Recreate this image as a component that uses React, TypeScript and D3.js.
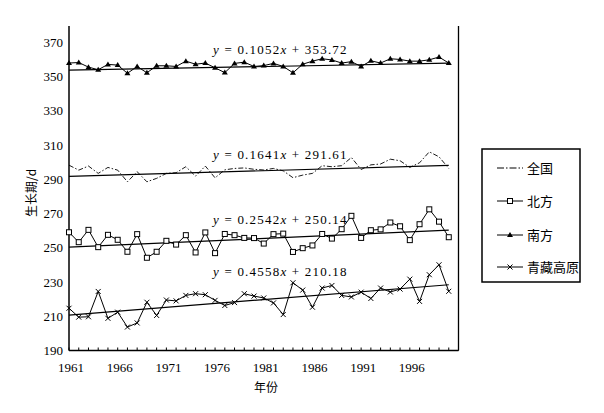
import * as d3 from 'd3';

const years = d3.range(1961, 2001);
const xTickYears = [1961, 1966, 1971, 1976, 1981, 1986, 1991, 1996];
const yTicks = [190, 210, 230, 250, 270, 290, 310, 330, 350, 370];

const south = [358, 358.3, 355.6, 354.1, 357.2, 356.8, 352, 356, 352.3, 356.4, 356.4, 356, 359.1, 357.3, 358, 355.2, 352.4, 357.8, 358.5, 356, 356.5, 357.8, 356, 352.3, 357.3, 359.1, 360.5, 359.8, 358, 358.8, 356, 359.3, 358, 360.5, 360.1, 359.1, 359.1, 359.9, 361.5, 358];
const national = [298.3, 295.4, 297.8, 293.5, 297, 295.4, 288.6, 294.5, 288.6, 290.6, 293.5, 293.9, 297.4, 291.9, 297.8, 290.9, 295.6, 296.4, 296.7, 295.9, 295.5, 296.4, 295, 291, 292.5, 293.5, 298, 297.4, 298, 302.8, 295.8, 298.5, 299, 301.8, 300.9, 297, 299.7, 306.1, 303.2, 296.4];
const north = [259.1, 253.3, 260.5, 250.4, 257.6, 254.7, 247.7, 258, 244.2, 247.7, 254.1, 251.9, 257.4, 247.3, 259, 246.9, 258.1, 257.4, 255.8, 255.7, 252.5, 258, 258.3, 247.6, 249.8, 251.4, 258.1, 255.4, 260.9, 268.7, 255.8, 260.3, 260.8, 264.8, 262.6, 254.5, 263.8, 272.5, 265.3, 256.2];
const plateau = [214.7, 209.5, 209.7, 224.5, 208.8, 212.4, 203.7, 206.1, 218.2, 210.5, 219.5, 219, 222.2, 223.2, 222.6, 219.3, 216.3, 218, 223.2, 221.8, 220.7, 217.8, 211, 229.6, 225.3, 215.3, 226.5, 228, 222.2, 221.3, 224.1, 220.4, 226.5, 224.2, 225.9, 231.7, 218.7, 234.3, 240.1, 224.6];

// trend lines: y = a * x + b, x = 1..40
const trendSlopes = [0.1052, 0.1641, 0.2542, 0.4558];
const trendIntercepts = [353.72, 291.61, 250.14, 210.18];
const trendLabels = ['0.1052', '0.1641', '0.2542', '0.4558'];
const trendConsts = ['353.72', '291.61', '250.14', '210.18'];
const trendLabelY = [50, 155, 220, 272];

const legendNames = ['全国', '北方', '南方', '青藏高原'];

const serif = '"Liberation Serif", "DejaVu Serif", serif';
const cjk = '"Noto Sans CJK SC", sans-serif';

const x = d3.scaleLinear().domain([1961, 2001]).range([69, 458.5]);
const y = d3.scaleLinear().domain([190, 370]).range([350.5, 42.5]);

const line = d3
  .line<number>()
  .x((_, i) => x(years[i]))
  .y((d) => y(d));

const Square = ({ cx, cy }: { cx: number; cy: number }) => (
  <rect x={cx - 2.5} y={cy - 2.5} width={5} height={5} fill="#fff" stroke="#000" strokeWidth={1} />
);
const Tri = ({ cx, cy }: { cx: number; cy: number }) => (
  <path d={`M${cx},${cy - 3}L${cx + 3},${cy + 2}L${cx - 3},${cy + 2}Z`} fill="#000" />
);
const Cross = ({ cx, cy }: { cx: number; cy: number }) => (
  <path d={`M${cx - 2.5},${cy - 2.5}L${cx + 2.5},${cy + 2.5}M${cx - 2.5},${cy + 2.5}L${cx + 2.5},${cy - 2.5}`} stroke="#000" strokeWidth={1} />
);

export default function App() {
  const x0 = x.range()[0];
  const x1 = x.range()[1];
  const yBase = y(190);
  const legendY = [168, 201, 235, 267];

  return (
    <svg
      width={604}
      height={413}
      viewBox="0 0 604 413"
      style={{ position: 'absolute', left: 0, top: 0, background: '#fff' }}
    >
      {/* frame */}
      <line x1={x0} x2={x0} y1={26} y2={yBase} stroke="#000" strokeWidth={1.5} />
      <line x1={x1} x2={x1} y1={26} y2={yBase} stroke="#000" strokeWidth={1.3} />
      <line x1={x0} x2={x1} y1={yBase} y2={yBase} stroke="#000" strokeWidth={1.5} />

      {/* x ticks every year */}
      {d3.range(1961, 2002).map((yr) => (
        <line key={yr} x1={x(yr)} x2={x(yr)} y1={yBase} y2={yBase - 3} stroke="#000" strokeWidth={1} />
      ))}
      {xTickYears.map((yr) => (
        <text key={yr} x={x(yr) + 2} y={yBase + 21} textAnchor="middle" fontFamily={serif} fontSize={13}>
          {yr}
        </text>
      ))}
      {yTicks.map((t) => (
        <text key={t} x={63} y={y(t) + 4.5} textAnchor="end" fontFamily={serif} fontSize={13}>
          {t}
        </text>
      ))}

      <text
        transform="translate(36,193) rotate(-90)"
        textAnchor="middle"
        fontFamily={cjk}
        fontSize={12}
      >
        生长期/d
      </text>
      <text x={266} y={392} textAnchor="middle" fontFamily={cjk} fontSize={12}>
        年份
      </text>

      {/* trend lines */}
      {trendSlopes.map((a, k) => (
        <line
          key={k}
          x1={x(1961)}
          x2={x(2000)}
          y1={y(a * 1 + trendIntercepts[k])}
          y2={y(a * 40 + trendIntercepts[k])}
          stroke="#000"
          strokeWidth={1.2}
        />
      ))}
      {trendLabels.map((lab, k) => (
        <text
          key={k}
          x={213}
          y={trendLabelY[k] + 4}
          fontFamily={serif}
          fontSize={13}
          letterSpacing={1.2}
          xmlSpace="preserve"
        >
          <tspan fontStyle="italic">y</tspan>
          {' = ' + lab}
          <tspan fontStyle="italic">x</tspan>
          {' + ' + trendConsts[k]}
        </text>
      ))}

      {/* series */}
      <path d={line(national) || ''} fill="none" stroke="#000" strokeWidth={0.9} strokeDasharray="5,2,1.5,2" />
      <path d={line(north) || ''} fill="none" stroke="#000" strokeWidth={1} />
      <path d={line(south) || ''} fill="none" stroke="#000" strokeWidth={1} />
      <path d={line(plateau) || ''} fill="none" stroke="#000" strokeWidth={1} />
      {north.map((v, i) => (
        <Square key={'n' + i} cx={x(years[i])} cy={y(v)} />
      ))}
      {south.map((v, i) => (
        <Tri key={'s' + i} cx={x(years[i])} cy={y(v)} />
      ))}
      {plateau.map((v, i) => (
        <Cross key={'p' + i} cx={x(years[i])} cy={y(v)} />
      ))}

      {/* legend */}
      <rect x={482} y={149} width={98} height={133} fill="#fff" stroke="#000" strokeWidth={1.5} />
      {legendNames.map((name, k) => {
        const ly = legendY[k];
        return (
          <g key={name}>
            <line
              x1={497}
              x2={523}
              y1={ly}
              y2={ly}
              stroke="#000"
              strokeWidth={1}
              strokeDasharray={k === 0 ? '7,2,1.5,2' : undefined}
            />
            {k === 1 && <Square cx={510} cy={ly} />}
            {k === 2 && <Tri cx={510} cy={ly} />}
            {k === 3 && <Cross cx={510} cy={ly} />}
            <text x={527} y={ly + 4.5} fontFamily={cjk} fontSize={13}>
              {name}
            </text>
          </g>
        );
      })}
    </svg>
  );
}
